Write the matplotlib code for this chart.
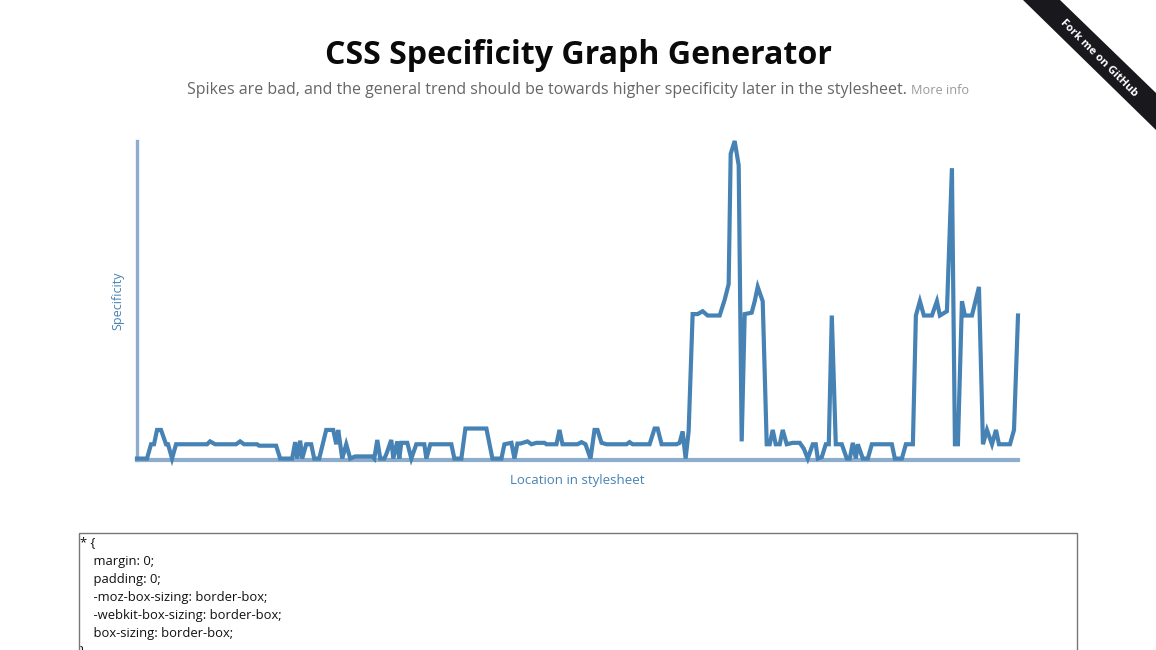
import matplotlib.pyplot as plt
from matplotlib.patches import Polygon, Rectangle

# location in stylesheet (vertex positions) and specificity
location = [
    0, 10, 14, 17, 20, 24, 29, 31, 35, 39, 70, 73, 78, 99, 103, 107, 120, 122, 139, 143,
    155, 158, 160, 163, 165, 169, 174, 177, 182, 189, 196, 199, 201, 205, 209, 213, 218, 235,
    237, 240, 243, 247, 249, 254, 256, 260, 262, 264, 270, 274, 279, 287, 289, 293, 314, 317,
    324, 328, 349, 355, 364, 367, 374, 377, 380, 383, 390, 394, 399, 407, 409, 419, 422, 425,
    440, 444, 448, 453, 457, 460, 464, 469, 489, 492, 495, 512, 517, 520, 524, 539, 542, 545,
    548, 551, 555, 560, 565, 570, 582, 587, 591, 593, 597, 601, 604, 607, 614, 617, 620, 625,
    629, 632, 635, 638, 642, 645, 649, 655,
    662, 666, 670, 675, 678, 680, 684, 688, 691, 694, 698, 704, 709, 712, 715, 718, 720, 725,
    730, 734, 754, 757, 764, 768, 775, 778, 782, 786, 794, 799, 802, 809, 814, 817, 820, 824,
    827, 834, 841, 845, 849, 854, 858, 861, 872, 876, 880,
]
specificity = [
    0, 0, 1, 1, 2, 2, 1, 1, 0, 1, 1, 1.2, 1, 1, 1.2, 1, 1, 0.9, 0.9, 0,
    0, 1.15, 0, 1.25, 0, 1, 1, 0, 0, 2, 2, 1, 2, 0, 1, 0, 0.15, 0.15,
    0, 1.3, 0, 0, 0.3, 1.3, 0, 1.2, 0, 1.1, 1.1, 0, 1, 1, 0, 1, 1, 0,
    0, 2.1, 2.1, 0, 0, 1, 1.1, 0, 1.05, 1.05, 1.2, 1, 1.1, 1.1, 1, 1, 2, 1,
    1, 1.15, 1, 0, 2, 2, 1.1, 1, 1, 1.15, 1, 1, 2.1, 2.1, 1, 1, 1.1, 1.9,
    0, 1.9, 10.1, 10.1, 10.3, 10, 10, 11.1, 12.2, 21.3, 22.2, 20.5, 1.2, 10.1, 10.2, 11, 12, 11,
    1, 1, 2, 1, 1, 2, 1, 1.1,
    1.1, 0.7, 0, 1, 1, 0, 0.1, 1, 1, 10, 1, 1, 0, 0, 1.1, 0, 1, 0,
    0, 1, 1, 0, 0, 1, 1, 10, 11, 10, 10, 11, 10, 10.3, 20.3, 1, 1, 11,
    10, 10, 12, 1, 2, 1, 2, 1, 1, 2, 10,
]

title = "CSS Specificity Graph Generator"
subtitle = "Spikes are bad, and the general trend should be towards higher specificity later in the stylesheet."
css_lines = [
    "* {",
    "    margin: 0;",
    "    padding: 0;",
    "    -moz-box-sizing: border-box;",
    "    -webkit-box-sizing: border-box;",
    "    box-sizing: border-box;",
    "}",
]

W, H = 1156, 650
plt.rcParams["font.family"] = ["Open Sans", "DejaVu Sans"]

fig = plt.figure(figsize=(W / 100, H / 100), dpi=100)


def fx(px):
    return px / W


def fy(py):
    return 1 - py / H


ax = fig.add_axes([fx(137), fy(460), fx(1018) - fx(137), fy(141) - fy(460)])
ax.plot(location, specificity, color="#4682b4", lw=3, solid_joinstyle="miter",
        clip_on=False, zorder=3)
ax.set_xlim(0, 880)
ax.set_ylim(-0.1, 22.2)
for side in ["top", "right"]:
    ax.spines[side].set_visible(False)
axis_color = "#8eadcc"
ax.spines["left"].set_color(axis_color)
ax.spines["left"].set_linewidth(2.4)
ax.spines["bottom"].set_color(axis_color)
ax.spines["bottom"].set_linewidth(3)
ax.set_xticks([])
ax.set_yticks([])
ax.set_xlabel("Location in stylesheet", color="#4682b4", fontsize=9.5, labelpad=10)
ax.set_ylabel("Specificity", color="#4682b4", fontsize=9, labelpad=9)

fig.text(0.5, fy(55), title, ha="center", va="center", fontsize=23.1,
         fontweight="bold", color="#0a0a0a")
fig.text(fx(907), fy(90), subtitle, ha="right", va="center", fontsize=11.5,
         color="#666666")
fig.text(fx(911), fy(91), "More info", ha="left", va="center", fontsize=9.2,
         color="#999999")

# github ribbon
ribbon = Polygon([(fx(1023), fy(0)), (fx(1060), fy(0)), (fx(1156), fy(93)),
                  (fx(1156), fy(130))], closed=True, transform=fig.transFigure,
                 facecolor="#18181d", edgecolor="none")
fig.add_artist(ribbon)
fig.text(fx(1099), fy(58), "Fork me on GitHub", rotation=-45, ha="center",
         va="center", fontsize=8, fontweight="bold", color="white",
         rotation_mode="anchor")

# textarea with the stylesheet
box = Rectangle((fx(79), fy(680)), fx(1077) - fx(79), fy(533) - fy(680),
                transform=fig.transFigure, facecolor="white", edgecolor="#777777",
                linewidth=1)
fig.add_artist(box)
for k, line in enumerate(css_lines):
    fig.text(fx(80), fy(543 + 18 * k), line, ha="left", va="center",
             fontsize=9.4, color="#111111")

fig.savefig("out.png", dpi=100)
